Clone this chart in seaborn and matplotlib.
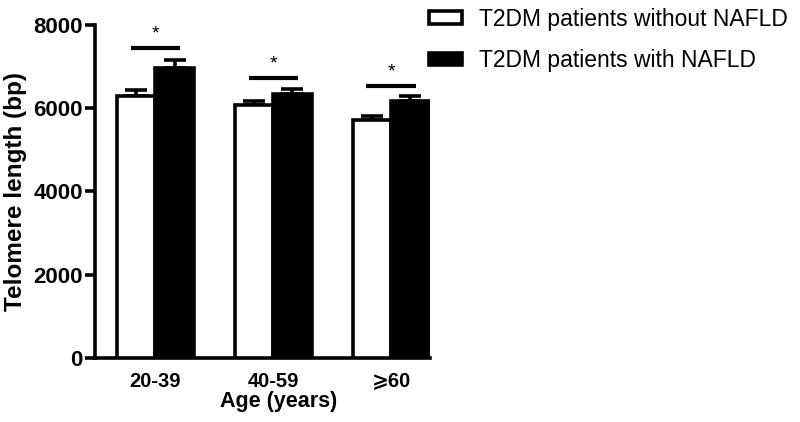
import matplotlib
matplotlib.use("Agg")
import matplotlib.pyplot as plt
from matplotlib.patches import Patch
import pandas as pd
import seaborn as sns

# values (mean, upper SEM)
age_groups = ['20-39', '40-59', '⩾60']
series_names = ['T2DM patients without NAFLD', 'T2DM patients with NAFLD']
without_nafld = [6280, 6080, 5720]
without_sem = [160, 100, 100]
with_nafld = [6960, 6350, 6160]
with_sem = [200, 110, 140]
sig_line_y = [7440, 6720, 6540]
y_ticks = [0, 2000, 4000, 6000, 8000]

df = pd.DataFrame({
    'age': age_groups * 2,
    'group': [series_names[0]] * 3 + [series_names[1]] * 3,
    'telomere': without_nafld + with_nafld,
})
sems = without_sem + with_sem

sns.set_style('white')
plt.rcParams['font.family'] = ['Liberation Sans', 'DejaVu Sans', 'Noto Sans CJK SC']
for key in ['text.color', 'axes.labelcolor', 'xtick.color', 'ytick.color', 'axes.edgecolor']:
    plt.rcParams[key] = 'black'

fig = plt.figure(figsize=(8, 4.22), dpi=100)
ax = fig.add_axes([0.119, 0.152, 0.418, 0.789])

sns.barplot(data=df, x='age', y='telomere', hue='group', hue_order=series_names,
            palette=['white', 'black'], edgecolor='black', linewidth=2.6,
            width=0.65, gap=0, errorbar=None, legend=False, ax=ax, zorder=3)

# error bars (upper only), taken from bar positions
for p, s in zip(ax.patches, sems):
    cx = p.get_x() + p.get_width() / 2
    ax.errorbar(cx, p.get_height(), yerr=[[0], [s]], fmt='none', ecolor='black',
                elinewidth=2.6, capsize=8, capthick=2.6, zorder=2)

# significance lines and stars
for i, y in enumerate(sig_line_y):
    ax.plot([i - 0.21, i + 0.21], [y, y], color='black', lw=3, solid_capstyle='butt')
    ax.text(i, y + 130, '*', ha='center', va='bottom', fontsize=14)

ax.set_ylim(0, 8000)
ax.set_xlim(-0.51, 2.325)
ax.set_yticks(y_ticks)
ax.set_yticklabels([str(t) for t in y_ticks], fontsize=16, fontweight='bold')
for lab in ax.get_xticklabels():
    lab.set_fontsize(14.5)
    lab.set_fontweight('bold')
ax.tick_params(axis='y', direction='out', length=7, width=2.6, left=True, pad=2)
ax.tick_params(axis='x', length=0, pad=10)
ax.set_xlabel('Age (years)', fontsize=15.5, fontweight='bold')
ax.xaxis.set_label_coords(0.55, -0.1)
ax.set_ylabel('Telomere length (bp)', fontsize=17.5, fontweight='bold')
ax.yaxis.set_label_coords(-0.205, 0.5)

sns.despine(ax=ax)
for side in ['left', 'bottom']:
    ax.spines[side].set_linewidth(2.6)

handles = [Patch(facecolor='white', edgecolor='black', linewidth=2.6),
           Patch(facecolor='black', edgecolor='black', linewidth=2.6)]
fig.legend(handles, series_names, loc='upper left', bbox_to_anchor=(0.51, 1.031),
           frameon=False, fontsize=16.5, handlelength=1.45, handleheight=0.45,
           labelspacing=0.82, handletextpad=0.75)

fig.savefig('out.png', dpi=100)
